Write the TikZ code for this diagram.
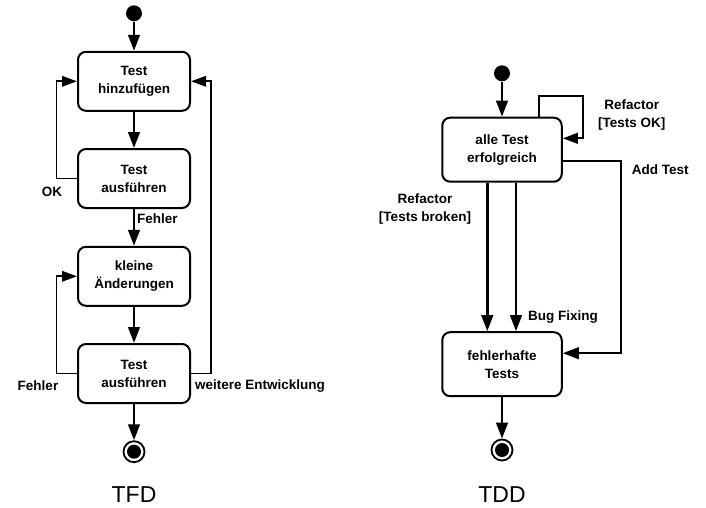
\documentclass[tikz,border=0pt]{standalone}
\usepackage{fontspec}
\setmainfont{Liberation Sans}
\usetikzlibrary{arrows.meta}
\begin{document}
\begin{tikzpicture}[x=1pt,y=-1pt,
  lbl/.style={font=\bfseries\fontsize{13.5}{18}\selectfont, inner sep=0pt, align=center},
  state/.style={draw, line width=2pt, rounded corners=8pt, minimum width=112pt, minimum height=59pt, align=center, font=\bfseries\fontsize{13.5}{18}\selectfont, inner sep=0pt},
  stateb/.style={state, minimum width=119.5pt, minimum height=64pt},
  initdot/.style={circle, fill, minimum size=16pt, inner sep=0pt},
  finaldot/.style={circle, draw, line width=1.8pt, minimum size=21pt, inner sep=0pt,
    path picture={\fill (path picture bounding box.center) circle (7pt);}},
  arr/.style={line width=2.8pt, -{Triangle[length=16pt,width=11.5pt]}},
  looparr/.style={line width=1.8pt, -{Triangle[length=15pt,width=10.5pt]}},
  title/.style={font=\fontsize{23}{26}\selectfont, inner sep=0pt}
]
\useasboundingbox (0,0) rectangle (706,507);

% ---------- TFD ----------
\node[initdot] (s1) at (134,13.3) {};
\node[state] (b1) at (134,81.3) {Test\\hinzufügen};
\node[state] (b2) at (134,178.5) {Test\\ausführen};
\node[state] (b3) at (134,276.3) {kleine\\Änderungen};
\node[state] (b4) at (134,373.5) {Test\\ausführen};
\node[finaldot] (e1) at (134,451.7) {};

\draw[arr] (s1) -- (b1);
\draw[arr] (b1) -- (b2);
\draw[arr] (b2) -- (b3);
\draw[arr] (b3) -- (b4);
\draw[arr] (b4) -- (e1);

\draw[looparr] (b2.west) -- ++(-20.6,0) |- (b1.west);
\draw[looparr] (b4.west) -- ++(-20.6,0) |- (b3.west);
\draw[looparr] (b4.east) -- ++(20,0) |- (b1.east);

\node[lbl] (lok) at (52,192) {OK};
\node[lbl, anchor=west] (lf1) at (137,219) {Fehler};
\node[lbl] (lf2) at (38,385.7) {Fehler};
\node[lbl, anchor=west] (lwe) at (195,385.7) {weitere Entwicklung};
\node[title] (t1) at (134,495) {TFD};

% ---------- TDD ----------
\node[initdot] (s2) at (502,73.3) {};
\node[stateb] (a) at (502,149.7) {alle Test\\erfolgreich};
\node[stateb] (b) at (502,364.2) {fehlerhafte\\Tests};
\node[finaldot] (e2) at (502,450) {};

\draw[arr] (s2) -- (a);
\draw[arr] (b) -- (e2);
\draw[arr] ([xshift=-14.7pt]a.south) -- ([xshift=-14.7pt]b.north);
\draw[arr] ([xshift=14pt]a.south) -- ([xshift=14pt]b.north);
\draw[looparr, line width=2.2pt] ([xshift=37pt]a.north) -- ++(0,-21) -- ++(44.3,0) |- ([yshift=11.4pt]a.east);
\draw[arr, line width=2.3pt] ([yshift=-11.3pt]a.east) -- ++(58.3,0) |- ([yshift=11pt]b.east);

\node[lbl] (lr1) at (631.7,115.5) {Refactor\\{}[Tests OK]};
\node[lbl, anchor=west] (lat) at (631.7,170) {Add Test};
\node[lbl] (lr2) at (425,209) {Refactor\\{}[Tests broken]};
\node[lbl, anchor=west] (lbf) at (528,316.7) {Bug Fixing};
\node[title] (t2) at (502,495) {TDD};
\end{tikzpicture}
\end{document}
